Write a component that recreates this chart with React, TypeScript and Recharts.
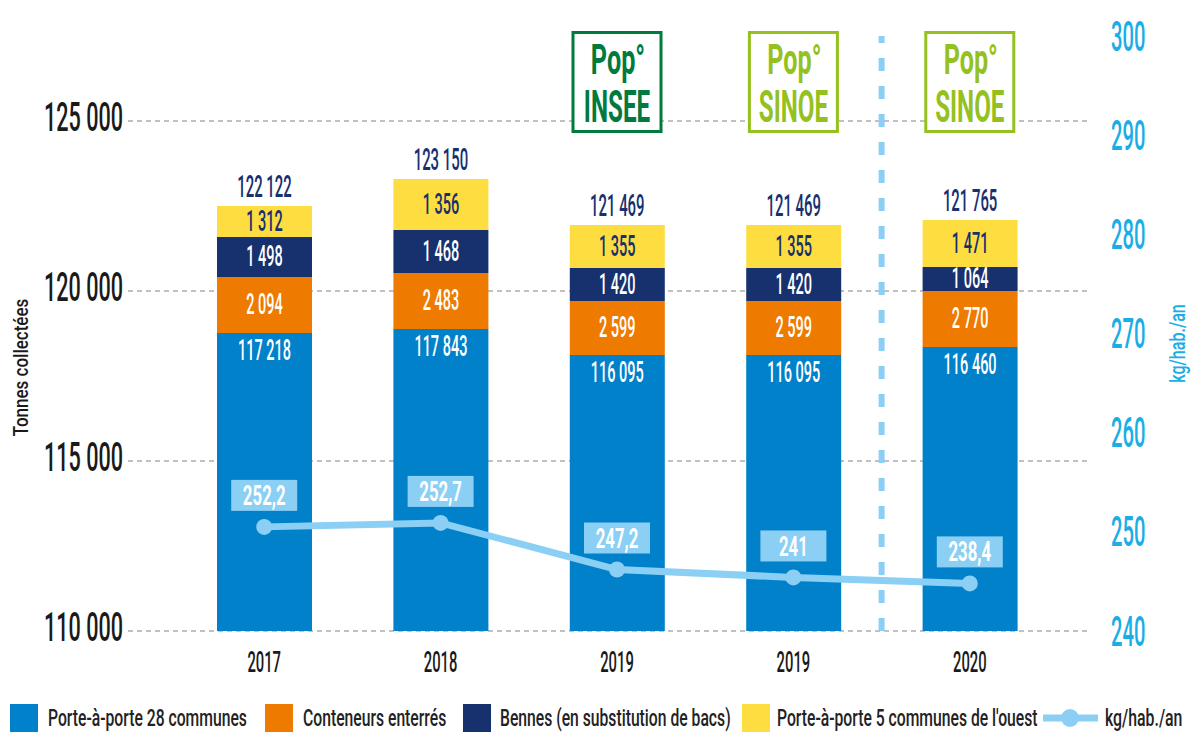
import React from 'react';
import { ComposedChart, Bar, Line, XAxis, YAxis, CartesianGrid, Legend, LabelList, ReferenceLine } from 'recharts';

const categories = ['2017', '2018', '2019a', '2019b', '2020'];
const yearLabels = ['2017', '2018', '2019', '2019', '2020'];

// segment heights as drawn in the picture (the drawing is not to scale with its labels)
const porteAPorte28 = [118765, 118882, 118118, 118118, 118353];
const conteneurs = [1647, 1647, 1588, 1588, 1647];
const bennes = [1176, 1265, 971, 971, 706];
const porteAPorte5 = [912, 1500, 1265, 1265, 1382];

const porteAPorte28Labels = ['117 218', '117 843', '116 095', '116 095', '116 460'];
const conteneursLabels = ['2 094', '2 483', '2 599', '2 599', '2 770'];
const bennesLabels = ['1 498', '1 468', '1 420', '1 420', '1 064'];
const porteAPorte5Labels = ['1 312', '1 356', '1 355', '1 355', '1 471'];
const totalLabels = ['122 122', '123 150', '121 469', '121 469', '121 765'];

const kgHabAn = [250.5, 250.9, 246.2, 245.4, 244.8];
const kgHabAnLabels = ['252,2', '252,7', '247,2', '241', '238,4'];

const popCategories = ['2019a', '2019b', '2020'];
const popSources = ['INSEE', 'SINOE', 'SINOE'];

const leftDomain = [110000, 127500];
const leftTicks = [110000, 115000, 120000, 125000];
const rightTicks = [240, 250, 260, 270, 280, 290, 300];

const seriesNames = [
  'Porte-à-porte 28 communes',
  'Conteneurs enterrés',
  'Bennes (en substitution de bacs)',
  "Porte-à-porte 5 communes de l'ouest",
];
const lineName = 'kg/hab./an';

const BLUE = '#0081c9';
const ORANGE = '#ee7a00';
const NAVY = '#17306e';
const YELLOW = '#fedd40';
const LIGHT = '#8bcff4';
const CYAN = '#1aade6';
const INSEE_GREEN = '#007a3d';
const SINOE_GREEN = '#95c11f';
const FONT = 'Roboto, sans-serif';

const rows = categories.map((c, i) => ({
  key: c,
  year: yearLabels[i],
  p28: porteAPorte28[i],
  cont: conteneurs[i],
  ben: bennes[i],
  p5: porteAPorte5[i],
  p28Label: porteAPorte28Labels[i],
  contLabel: conteneursLabels[i],
  benLabel: bennesLabels[i],
  p5Label: porteAPorte5Labels[i],
  total: totalLabels[i],
  kg: kgHabAn[i],
  kgLabel: kgHabAnLabels[i],
}));

function SqText({ x, y, sx, rotate = 0, children, ...rest }: any) {
  return (
    <text
      transform={`translate(${x} ${y}) rotate(${rotate}) scale(${sx} 1)`}
      x={0}
      y={0}
      fontFamily={FONT}
      fontWeight={500}
      {...rest}
    >
      {children}
    </text>
  );
}

const box = (p: any) => {
  const v = p.viewBox || {};
  return {
    x: p.x ?? v.x,
    y: p.y ?? v.y,
    width: p.width ?? v.width ?? 0,
    height: p.height ?? v.height ?? 0,
  };
};

const segLabel = (color: string, top = false) => (p: any) => {
  const { x, y, width, height } = box(p);
  const cy = top ? y + 18 : y + height / 2;
  return (
    <SqText x={x + width / 2} y={cy} sx={0.5} fontSize={29} fill={color} textAnchor="middle" dominantBaseline="central">
      {p.value}
    </SqText>
  );
};

const totalLabel = (p: any) => {
  const { x, y, width } = box(p);
  return (
    <SqText x={x + width / 2} y={y - 20} sx={0.48} fontSize={31} fill={NAVY} textAnchor="middle" dominantBaseline="central">
      {p.value}
    </SqText>
  );
};

const kgLabel = (p: any) => {
  const { x, y } = box(p);
  return (
    <g>
      <rect x={x - 33} y={y - 47} width={66} height={31} fill={LIGHT} />
      <SqText x={x} y={y - 31} sx={0.6} fontSize={28} fontWeight={700} fill="#fff" textAnchor="middle" dominantBaseline="central">
        {p.value}
      </SqText>
    </g>
  );
};

const fmtThousands = (v: number) => `${Math.floor(v / 1000)} 000`;

const LeftTick = (p: any) => (
  <SqText x={p.x} y={p.y - 4} sx={0.54} fontSize={40} fill="#1a1a1a" textAnchor="end" dominantBaseline="central">
    {fmtThousands(p.payload.value)}
  </SqText>
);

const RightTick = (p: any) => (
  <SqText x={p.x} y={p.y} sx={0.48} fontSize={42} fill={CYAN} textAnchor="start" dominantBaseline="central">
    {p.payload.value}
  </SqText>
);

const XTick = (p: any) => (
  <SqText x={p.x} y={p.y + 32} sx={0.51} fontSize={29} fill="#1a1a1a" textAnchor="middle" dominantBaseline="central">
    {yearLabels[p.index] ?? p.payload.value}
  </SqText>
);

const AxisTitle = ({ viewBox, text, dx, dy, sx, color, size }: any) => {
  const v = viewBox || { x: 0, y: 0, width: 0, height: 0 };
  return (
    <SqText
      x={v.x + dx}
      y={v.y + v.height / 2 + dy}
      rotate={-90}
      sx={sx}
      fontSize={size}
      fill={color}
      textAnchor="middle"
      dominantBaseline="central"
    >
      {text}
    </SqText>
  );
};

const PopBox = ({ viewBox, source, color }: any) => {
  const v = viewBox || { x: 0, y: 0 };
  const cx = v.x;
  const top = v.y - 5;
  return (
    <g>
      <rect x={cx - 44} y={top + 1.5} width={88} height={99} fill="#fff" stroke={color} strokeWidth={3} />
      <SqText x={cx + 1} y={top + 43} sx={0.6} fontSize={42} fontWeight={700} fill={color} textAnchor="middle">
        Pop°
      </SqText>
      <SqText x={cx} y={top + 91} sx={0.55} fontSize={44} fontWeight={700} fill={color} textAnchor="middle">
        {source}
      </SqText>
    </g>
  );
};

const swatchX = [10, 265, 463, 742];
const legendTextX = [48, 303, 500, 777];
const legendColors = [BLUE, ORANGE, NAVY, YELLOW];

const renderLegend = () => (
  <svg width={1194} height={34}>
    {seriesNames.map((name, i) => (
      <g key={name}>
        <rect x={swatchX[i]} y={4} width={28} height={28} fill={legendColors[i]} />
        <SqText x={legendTextX[i]} y={18} sx={0.655} fontSize={24} fill="#222" dominantBaseline="central">
          {name}
        </SqText>
      </g>
    ))}
    <line x1={1043} y1={18} x2={1098} y2={18} stroke={LIGHT} strokeWidth={7} />
    <circle cx={1070} cy={18} r={9} fill={LIGHT} />
    <SqText x={1105} y={18} sx={0.66} fontSize={24} fill="#222" dominantBaseline="central">
      {lineName}
    </SqText>
  </svg>
);

// grid only on the left axis ticks
const gridRows = ({ offset }: any) =>
  leftTicks.map(
    (t) => offset.top + (offset.height * (leftDomain[1] - t)) / (leftDomain[1] - leftDomain[0])
  );

export default function App() {
  return (
    <div style={{ width: 1194, height: 734, background: '#fff' }}>
      <style>{'body{margin:0}'}</style>
      <ComposedChart width={1194} height={734} data={rows} margin={{ top: 36, right: 0, bottom: 63, left: 0 }}>
        <CartesianGrid
          yAxisId="left"
          vertical={false}
          horizontalCoordinatesGenerator={gridRows}
          stroke="#adadad"
          strokeWidth={1.5}
          strokeDasharray="5 4"
        />
        <XAxis
          dataKey="key"
          interval={0}
          axisLine={false}
          tickLine={false}
          tickSize={0}
          tickMargin={0}
          height={40}
          padding={{ left: 48, right: 32 }}
          tick={<XTick />}
        />
        <YAxis
          yAxisId="left"
          orientation="left"
          width={128}
          domain={leftDomain}
          allowDataOverflow
          ticks={leftTicks}
          interval={0}
          axisLine={false}
          tickLine={false}
          tickSize={0}
          tickMargin={5}
          tick={<LeftTick />}
          label={<AxisTitle text="Tonnes collectées" dx={22} dy={34} sx={0.85} size={20} color="#1a1a1a" />}
        />
        <YAxis
          yAxisId="right"
          orientation="right"
          width={104}
          domain={[240, 300]}
          ticks={rightTicks}
          interval={0}
          axisLine={false}
          tickLine={false}
          tickSize={0}
          tickMargin={21}
          tick={<RightTick />}
          label={<AxisTitle text={lineName} dx={88} dy={10} sx={0.73} size={22} color={CYAN} />}
        />
        <Bar yAxisId="left" dataKey="p28" name={seriesNames[0]} stackId="a" fill={BLUE} barSize={95} isAnimationActive={false}>
          <LabelList dataKey="p28Label" content={segLabel('#fff', true)} />
        </Bar>
        <Bar yAxisId="left" dataKey="cont" name={seriesNames[1]} stackId="a" fill={ORANGE} barSize={95} isAnimationActive={false}>
          <LabelList dataKey="contLabel" content={segLabel('#fff')} />
        </Bar>
        <Bar yAxisId="left" dataKey="ben" name={seriesNames[2]} stackId="a" fill={NAVY} barSize={95} isAnimationActive={false}>
          <LabelList dataKey="benLabel" content={segLabel('#fff')} />
        </Bar>
        <Bar yAxisId="left" dataKey="p5" name={seriesNames[3]} stackId="a" fill={YELLOW} barSize={95} isAnimationActive={false}>
          <LabelList dataKey="p5Label" content={segLabel(NAVY)} />
          <LabelList dataKey="total" content={totalLabel} />
        </Bar>
        <ReferenceLine
          yAxisId="left"
          x="2019b"
          position="end"
          stroke={LIGHT}
          strokeWidth={6}
          strokeDasharray="13 15"
        />
        <Line
          yAxisId="right"
          dataKey="kg"
          name={lineName}
          stroke={LIGHT}
          strokeWidth={7}
          dot={{ r: 8, fill: LIGHT, stroke: 'none' }}
          activeDot={false}
          isAnimationActive={false}
        >
          <LabelList dataKey="kgLabel" content={kgLabel} />
        </Line>
        {popCategories.map((c, i) => (
          <ReferenceLine
            key={c}
            yAxisId="left"
            x={c}
            stroke="none"
            label={<PopBox source={popSources[i]} color={popSources[i] === 'INSEE' ? INSEE_GREEN : SINOE_GREEN} />}
          />
        ))}
        <Legend
          verticalAlign="middle"
          layout="horizontal"
          wrapperStyle={{ top: 700, left: 0, width: 1194, height: 34 }}
          content={renderLegend}
        />
      </ComposedChart>
    </div>
  );
}
